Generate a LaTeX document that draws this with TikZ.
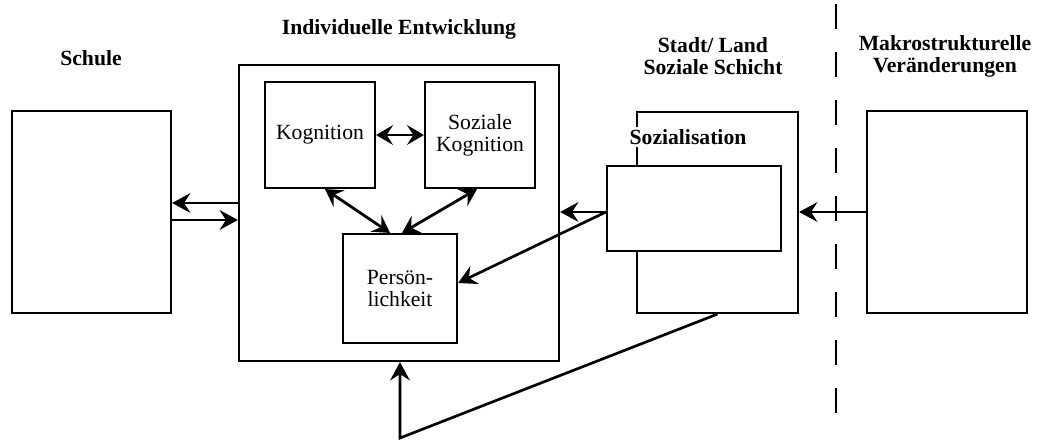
\documentclass[tikz,border=0pt]{standalone}
\usepackage{fontspec}
\setmainfont{Liberation Serif}
\usetikzlibrary{arrows.meta}
\tikzset{box/.style={draw, line width=1.5pt, inner sep=0pt, align=center},
	titel/.style={font=\fontsize{15.4}{15.6}\selectfont\bfseries, align=center},
	pfeil/.style={-{Stealth[length=13pt,width=14pt,inset=4.5pt]}, line width=1.9pt},
	doppel/.style={{Stealth[length=12pt,width=14pt,inset=4.5pt]}-{Stealth[length=12pt,width=14pt,inset=4.5pt]}, line width=2pt}}

\begin{document}
\begin{tikzpicture}[x=0.025cm, y=-0.025cm, every node/.style={font=\fontsize{15.4}{15.6}\selectfont}]
		\useasboundingbox (0,0) rectangle (1042,442);
		%		Ueberschriften
		\node[titel] (tsch) at (91,58){Schule};
		\node[titel] (tent) at (399,29){Individuelle Entwicklung};
		\node[titel] (tsoz) at (713,56){Stadt/ Land\\Soziale Schicht};
		\node[titel] (tmak) at (945,56){Makrostrukturelle\\Ver\"anderungen};
		%		Kaesten
		\node[box, minimum width=3.975cm, minimum height=5.05cm] (sch) at (91.5,212){};
		\node[box, minimum width=8cm, minimum height=7.4cm] (ent) at (399,213){};
		\node[box, minimum width=2.75cm, minimum height=2.65cm] (kog) at (320,135){Kognition};
		\node[box, minimum width=2.75cm, minimum height=2.65cm] (skog) at (480,135){Soziale\\Kognition};
		\node[box, minimum width=2.85cm, minimum height=2.725cm] (pers) at (400,288.5){Pers\"on-\\lichkeit};
		\node[box, minimum width=4.025cm, minimum height=5.025cm] (sozout) at (717.5,212.5){};
		\node[titel, fill=white, inner sep=2pt] (tsozi) at (688,137){Sozialisation};
		\node[box, fill=white, minimum width=4.35cm, minimum height=2.125cm] (sozin) at (694,208.5){};
		\node[box, minimum width=4cm, minimum height=5.05cm] (mak) at (947,212){};
		%		Trennlinie
		\draw[line width=1.5pt, dash pattern=on 0.625cm off 0.575cm] (836,4) -- (836,414);
		%		Verbindungen
		\draw[pfeil] (ent.west |- 0,203) -- (sch.east |- 0,203);
		\draw[pfeil] (sch.east |- 0,220) -- (ent.west |- 0,220);
		\draw[doppel] (kog.east) -- (skog.west);
		\draw[doppel] ([xshift=0.125cm]kog.south) -- ([xshift=-0.25cm]pers.north);
		\draw[doppel] ([xshift=-0.075cm]skog.south) -- ([xshift=0.05cm]pers.north);
		\draw[pfeil] (sozin.west |- 0,212) -- (ent.east |- 0,212);
		\draw[pfeil] (sozin.west |- 0,212) -- (pers.east |- 0,283);
		\draw[pfeil] (mak.west) -- (mak.west -| sozout.east);
		\coordinate (knick) at (400,438);
		\draw[pfeil] (sozout.south) -- (knick) -- (knick |- ent.south);
		\end{tikzpicture}
\end{document}
